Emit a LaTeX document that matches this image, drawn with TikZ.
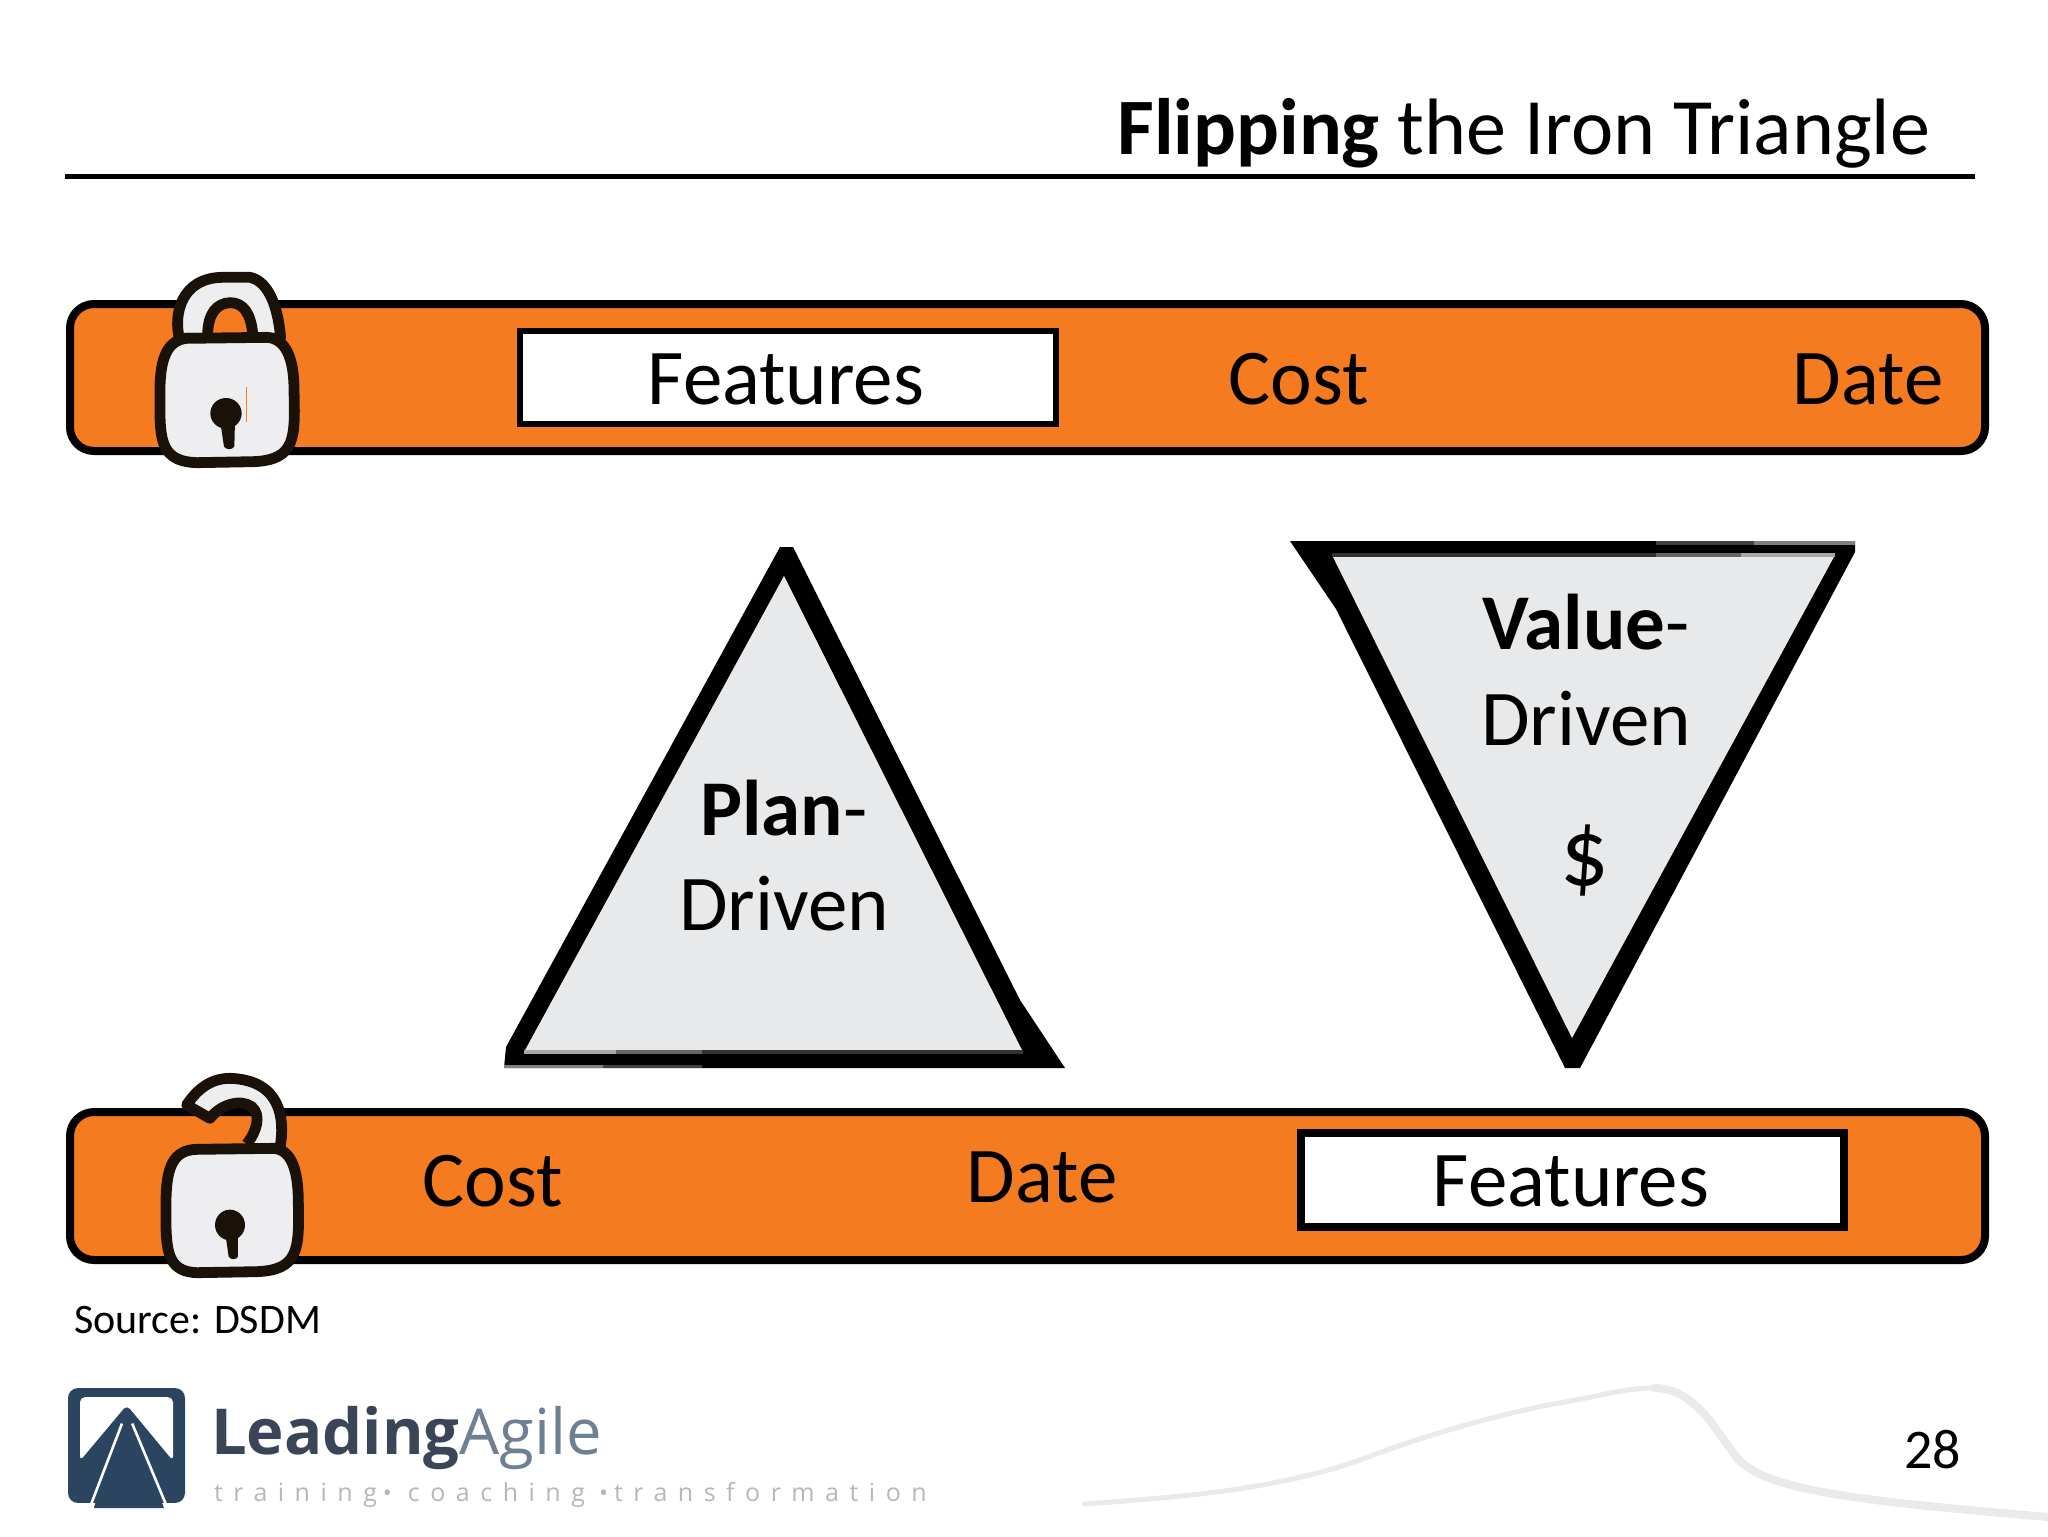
\documentclass[tikz,border=0pt]{standalone}
\usepackage{fontspec}
\setmainfont{Carlito}
\newfontfamily\logofont{Open Sans}
\definecolor{barorange}{HTML}{F47B20}
\definecolor{trigray}{HTML}{E8E9EB}
\definecolor{lockgray}{HTML}{EEEEF0}
\definecolor{lockink}{HTML}{1A1208}
\definecolor{logoblue}{HTML}{2B4560}
\definecolor{logodark}{HTML}{3A4658}
\definecolor{logomid}{HTML}{6F8093}
\definecolor{logotag}{HTML}{B4B8BC}
\definecolor{swoosh}{HTML}{E9EBEB}
\tikzset{
  lbl/.style={inner sep=0pt,outer sep=0pt,anchor=base,font=\fontsize{39.5}{42}\selectfont,text=black},
  lblw/.style={inner sep=0pt,outer sep=0pt,anchor=base west,text=black},
  barshape/.style={draw=black,line width=4pt,fill=barorange,rounded corners=12pt},
  whitebox/.style={draw=black,fill=white},
  lockline/.style={draw=lockink,line width=5.4pt,line join=round,fill=lockgray},
  lockscope/.style={x=0.16667pt,y=-0.16667pt},
}
\begin{document}
\begin{tikzpicture}[x=0.5pt,y=-0.5pt]
\useasboundingbox (0,0) rectangle (2048,1536);
\fill[white] (0,0) rectangle (2048,1536);

% title
\node[lblw,font=\fontsize{40}{44}\selectfont,anchor=base east] (title) at (1930,155) {\textbf{Flipping} the Iron Triangle};
\draw[line width=2.5pt,black] (65,176) -- (1975,176);

% bars
\path[barshape] (70,304) rectangle (1985,451);
\path[barshape] (70,1112) rectangle (1985,1260);
\path[whitebox,line width=2.8pt] (520,331) rectangle (1056,424);
\path[whitebox,line width=3.6pt] (1301,1133) rectangle (1844,1227);

\node[lbl] (f1) at (786,404) {Features};
\node[lbl] (c1) at (1299,404) {Cost};
\node[lbl] (d1) at (1868,404) {Date};
\node[lbl] (c2) at (493,1206) {Cost};
\node[lbl] (d2) at (1042,1202) {Date};
\node[lbl] (f2) at (1571,1206) {Features};

% left triangle
\fill[black] (780,547) -- (793,547) -- (1020,1000) -- (1065,1068) -- (504,1068) -- (506,1047) -- cycle;
\fill[trigray] (784,576) -- (1023,1052) -- (524,1052) -- cycle;
\fill[black!80] (702,1050) rectangle (1023,1054);
\fill[black!60] (616,1050) rectangle (702,1054);
\fill[black!35] (524,1050) rectangle (616,1054);
\fill[black!75] (603,1065) rectangle (702,1068);
\fill[black!50] (504,1065) rectangle (603,1068);
\node[lbl,font=\fontsize{39.5}{42}\selectfont\bfseries] (plan) at (784,835) {Plan\mdseries-};
\node[lbl] (drv1) at (784,930) {Driven};

% right triangle
\fill[black] (1290,541) -- (1855,541) -- (1855,552) -- (1580,1068) -- (1565,1068) -- (1336,609) -- cycle;
\fill[trigray] (1332,555) -- (1835,555) -- (1572,1038) -- cycle;
\fill[black!80] (1332,553) rectangle (1656,557);
\fill[black!60] (1656,553) rectangle (1741,557);
\fill[black!35] (1741,553) rectangle (1835,557);
\fill[black!75] (1656,541) rectangle (1754,545);
\fill[black!50] (1754,541) rectangle (1855,545);
\node[lbl,font=\fontsize{39.5}{42}\selectfont\bfseries] (value) at (1586,649) {Value\mdseries-};
\node[lbl] (drv2) at (1586,745) {Driven};
\node[lbl,font=\fontsize{48}{50}\selectfont] (dollar) at (1585,885) {\$};

% closed lock
\begin{scope}[shift={(40,250)},lockscope]
  \path[lockline] (418,265) .. controls (400,190) and (425,85) .. (545,82) -- (630,82) .. controls (690,95) and (715,180) .. (722,265) -- cycle;
  \path[draw=lockink,line width=5.4pt,fill=barorange] (503,250) .. controls (505,190) and (530,160) .. (570,158) .. controls (610,158) and (632,190) .. (638,250);
  \path[lockline] (360,420) .. controls (360,320) and (385,270) .. (440,265) -- (680,262) .. controls (735,265) and (762,320) .. (762,420) .. controls (765,560) and (770,630) .. (640,635) -- (470,638) .. controls (380,635) and (362,590) .. (360,500) -- cycle;
  \draw[barorange,line width=0.6pt] (620,410) -- (620,515);
  \fill[lockink] (558,490) ellipse [x radius=47, y radius=46];
  \fill[lockink] (540,510) -- (585,510) -- (583,590) .. controls (575,600) and (560,600) .. (552,590) -- cycle;
\end{scope}

% open lock
\begin{scope}[shift={(40,1060)},lockscope]
  \path[lockline] (720,262) .. controls (735,180) and (725,60) .. (570,55) .. controls (510,55) and (470,90) .. (440,135) -- (510,175) .. controls (540,135) and (600,115) .. (635,140) .. controls (665,165) and (650,215) .. (620,252);
  \path[lockline] (378,430) .. controls (378,320) and (400,270) .. (470,268) -- (700,265) .. controls (750,268) and (775,320) .. (775,430) .. controls (778,570) and (775,630) .. (650,635) -- (470,638) .. controls (395,635) and (380,590) .. (378,500) -- cycle;
  \fill[lockink] (570,495) ellipse [x radius=45, y radius=46];
  \fill[lockink] (555,515) -- (593,515) -- (594,590) .. controls (588,600) and (572,600) .. (566,590) -- cycle;
\end{scope}

% source and page number
\node[lblw,font=\fontsize{21}{24}\selectfont] (src) at (74,1333) {Source: DSDM};
\node[lblw,anchor=base east,font=\fontsize{28}{30}\selectfont] (page) at (1961,1468) {28};

% swoosh
\draw[swoosh,line width=2.5pt,line cap=round] (1084,1504) .. controls (1180,1497) and (1280,1490) .. (1368,1457) .. controls (1440,1430) and (1510,1412) .. (1559,1403) .. controls (1600,1396) and (1625,1388) .. (1654,1388);
\draw[swoosh,line width=4pt,line cap=round] (1654,1388) .. controls (1695,1388) and (1715,1430) .. (1735,1455) .. controls (1760,1490) and (1850,1500) .. (2048,1517);

% logo
\begin{scope}[shift={(41,1359.3)},x=0.3pt,y=-0.169pt]
  \fill[logoblue,rounded corners=5pt] (45,85) rectangle (240,425);
  \fill[white,rounded corners=2.5pt] (65,300) -- (65,112) -- (220,112) -- (220,300) -- (143,135) -- cycle;
  \fill[logoblue] (143,150) -- (205,440) -- (88,440) -- cycle;
  \draw[white,line width=1.3pt] (135,190) -- (80,445);
  \draw[white,line width=1.3pt] (152,190) -- (212,445);
\end{scope}
\node[lblw,font=\logofont\fontsize{31.7}{34}\selectfont] (logo) at (211,1454) {\textcolor{logodark}{\textbf{Leading}}\textcolor{logomid}{Agile}};
\node[lblw,font=\logofont\fontsize{12.5}{14}\selectfont\addfontfeature{LetterSpace=42},text=logotag] (tag) at (214,1501) {training\hspace{3pt}{\large\textbullet}\hspace{8pt}coaching\hspace{7pt}{\large\textbullet}\hspace{3pt}transformation};
\end{tikzpicture}
\end{document}
